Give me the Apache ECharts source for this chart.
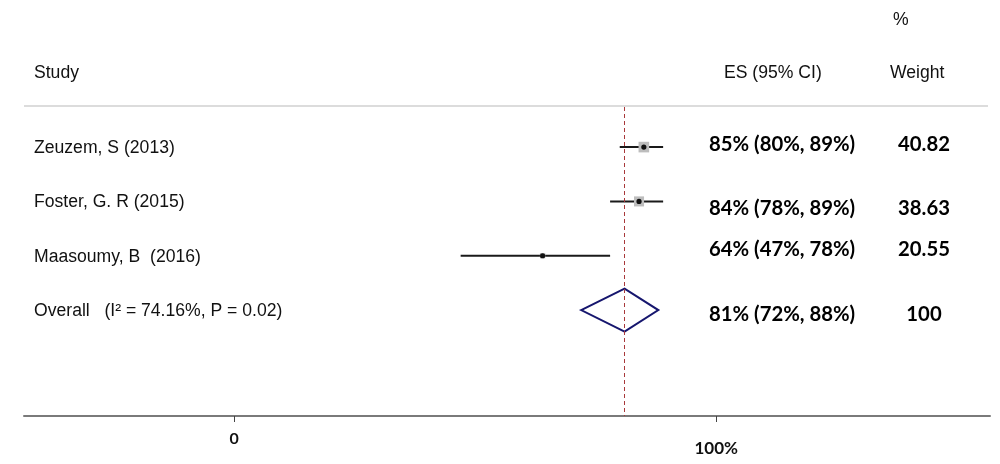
<!DOCTYPE html>
<html><head><meta charset="utf-8">
<script src="https://cdn.jsdelivr.net/npm/echarts@6/dist/echarts.min.js"></script>
<style>html,body{margin:0;padding:0;background:#fff}#c{width:1000px;height:464px}</style>
</head><body><div id="c"></div>
<script>
// ---- data ----
const studies = ['Zeuzem, S (2013)', 'Foster, G. R (2015)', 'Maasoumy, B  (2016)'];
const es = [85, 84, 64];
const lower = [80, 78, 47];
const upper = [89, 89, 78];
const weights = ['40.82', '38.63', '20.55'];
const overallLabel = 'Overall   (I\u00B2 = 74.16%, P = 0.02)';
const overallES = 81, overallLo = 72, overallHi = 88, overallWeight = '100';
const xTicks = [0, 100];
const xTickLabels = ['0', '100%'];
const headers = { pct: '%', study: 'Study', es: 'ES (95% CI)', weight: 'Weight' };

// ---- layout (not data) ----
const textShift = [-3, 7, -6, 4];
const ESX = 709, WX = 924, SX = 35;
const esFont = 'bold 20.3px Lato';
const stFont = '17.6px "Liberation Sans"';

const rows = studies.map((s, i) => [es[i], lower[i], upper[i], i + 1, parseFloat(weights[i])]);

function fmt(e, l, h) { return e + '% (' + l + '%, ' + h + '%)'; }

const chart = echarts.init(document.getElementById('c'));
chart.setOption({
  animation: false,
  backgroundColor: '#fff',
  grid: { left: 24, right: 10, top: 107, bottom: 48 },
  xAxis: {
    type: 'value', min: -43.57, max: 156.8,
    splitLine: { show: false },
    axisLine: { show: true, lineStyle: { color: '#7a7a7a', width: 2 } },
    axisTick: { show: true, customValues: xTicks, length: 6, lineStyle: { color: '#444', width: 1 } },
    axisLabel: {
      customValues: xTicks,
      margin: 15,
      formatter: v => v === 0 ? '{a|' + xTickLabels[0] + '}' : '{b|' + xTickLabels[1] + '}',
      rich: {
        a: { fontFamily: 'Lato', fontWeight: 'bold', fontSize: 16, color: '#111' },
        b: { fontFamily: 'Lato', fontWeight: 'bold', fontSize: 17, color: '#111', padding: [9, 0, 0, 0] }
      }
    }
  },
  yAxis: { type: 'value', inverse: true, min: 0.262, max: 5.95, show: false },
  graphic: [
    { type: 'text', left: 893, top: 11, style: { text: headers.pct, font: stFont, fill: '#111' } },
    { type: 'text', left: SX - 1, top: 64, style: { text: headers.study, font: stFont, fill: '#111' } },
    { type: 'text', left: 724, top: 64, style: { text: headers.es, font: stFont, fill: '#111' } },
    { type: 'text', left: 890, top: 64, style: { text: headers.weight, font: stFont, fill: '#111' } },
    { type: 'line', shape: { x1: 24, y1: 106, x2: 988, y2: 106 }, style: { stroke: '#d0d0d0', lineWidth: 1.5 } }
  ],
  series: [
    {
      type: 'custom',
      data: rows,
      renderItem: function (params, api) {
        const i = params.dataIndex;
        const c = api.coord([api.value(0), api.value(3)]);
        const l = api.coord([api.value(1), api.value(3)]);
        const h = api.coord([api.value(2), api.value(3)]);
        const bs = api.value(4) * 0.26;
        return {
          type: 'group',
          children: [
            { type: 'line', shape: { x1: l[0], y1: c[1], x2: h[0], y2: c[1] }, style: { stroke: '#1a1a1a', lineWidth: 2 } },
            { type: 'rect', shape: { x: c[0] - bs / 2, y: c[1] - bs / 2, width: bs, height: bs }, style: { fill: '#bdbdbd' } },
            { type: 'circle', shape: { cx: c[0], cy: c[1], r: 2.6 }, style: { fill: '#111' } },
            { type: 'text', x: SX - 1, y: c[1] + 1, style: { text: studies[i], font: stFont, fill: '#111', verticalAlign: 'middle' } },
            { type: 'text', x: ESX, y: c[1] + textShift[i], style: { text: fmt(es[i], lower[i], upper[i]), font: esFont, fill: '#000', verticalAlign: 'middle' } },
            { type: 'text', x: WX, y: c[1] + textShift[i], style: { text: weights[i], font: esFont, fill: '#000', verticalAlign: 'middle', align: 'center' } }
          ]
        };
      },
      markLine: {
        silent: true, symbol: 'none', label: { show: false },
        lineStyle: { color: '#a8383a', type: [4, 3], width: 1 },
        data: [{ xAxis: overallES }]
      }
    },
    {
      type: 'custom',
      data: [[overallES, overallLo, overallHi, 4]],
      renderItem: function (params, api) {
        const c = api.coord([api.value(0), api.value(3)]);
        const l = api.coord([api.value(1), api.value(3)]);
        const h = api.coord([api.value(2), api.value(3)]);
        const hh = 21.5;
        return {
          type: 'group',
          children: [
            { type: 'polygon', shape: { points: [[l[0], c[1]], [c[0], c[1] - hh], [h[0], c[1]], [c[0], c[1] + hh]] }, style: { fill: 'none', stroke: '#16166e', lineWidth: 2 } },
            { type: 'text', x: SX - 1, y: c[1] + 1, style: { text: overallLabel, font: stFont, fill: '#111', verticalAlign: 'middle' } },
            { type: 'text', x: ESX, y: c[1] + textShift[3], style: { text: fmt(overallES, overallLo, overallHi), font: esFont, fill: '#000', verticalAlign: 'middle' } },
            { type: 'text', x: WX, y: c[1] + textShift[3], style: { text: overallWeight, font: esFont, fill: '#000', verticalAlign: 'middle', align: 'center' } }
          ]
        };
      }
    }
  ]
});
</script></body></html>
